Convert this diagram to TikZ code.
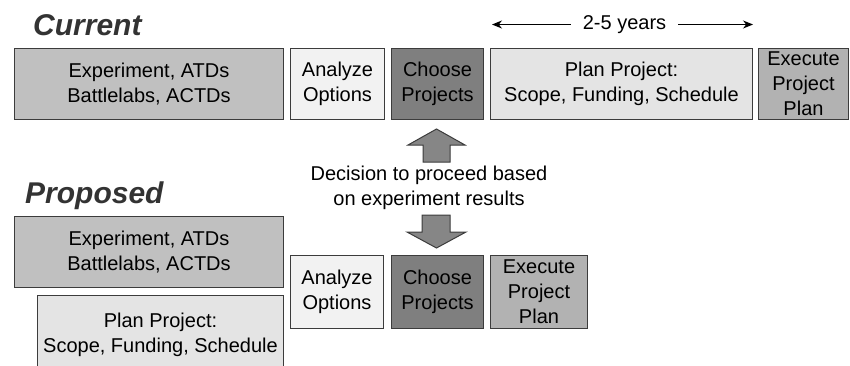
\documentclass[tikz,border=0pt]{standalone}
\usepackage{fontspec}
\setmainfont{Liberation Sans}
\usetikzlibrary{arrows.meta}

\definecolor{expgray}{HTML}{C0C0C0}
\definecolor{anagray}{HTML}{F2F2F2}
\definecolor{chogray}{HTML}{7F7F7F}
\definecolor{plangray}{HTML}{E4E4E4}
\definecolor{exegray}{HTML}{B2B2B2}
\definecolor{arrgray}{HTML}{868686}
\definecolor{linegray}{HTML}{3C3C3C}
\definecolor{titlegray}{HTML}{333333}

\tikzset{
  box/.style={draw=linegray, line width=1pt, inner sep=0pt, align=center,
    anchor=north west, font=\fontsize{20}{25}\selectfont},
  title/.style={anchor=base west, inner sep=0pt, text=titlegray,
    font=\fontsize{30}{34}\selectfont\bfseries\itshape},
  blockarrow/.style={fill=arrgray, draw=linegray, line width=1pt, line join=miter},
}

\begin{document}
\begin{tikzpicture}[x=1pt,y=1pt]
  \clip (0,0) rectangle (850,-365);

  % Current
  \node[title] (current) at (33,-35) {Current};

  \node[box, fill=expgray, minimum width=269pt, minimum height=71pt] (cexp) at (14,-48)
    {Experiment, ATDs\\Battlelabs, ACTDs};
  \node[box, fill=anagray, minimum width=94pt, minimum height=71pt] (cana) at (290,-48)
    {Analyze\\Options};
  \node[box, fill=chogray, minimum width=92pt, minimum height=71pt] (ccho) at (391,-48)
    {Choose\\Projects};
  \node[box, fill=plangray, minimum width=262pt, minimum height=71pt] (cplan) at (490,-48)
    {Plan Project:\\Scope, Funding, Schedule};
  \node[box, fill=exegray, minimum width=90pt, minimum height=71pt] (cexe) at (758,-48)
    {Execute\\Project\\Plan};

  % 2-5 years span
  \node[font=\fontsize{20}{24}\selectfont, inner xsep=12pt, inner ysep=0pt] (years) at (624.5,-24.5) {2-5 years};
  \coordinate (yleft) at (492,-24.5);
  \coordinate (yright) at (753,-24.5);
  \draw[line width=1pt, -{Stealth[length=10pt,width=8pt]}] (years.west) -- (yleft);
  \draw[line width=1pt, -{Stealth[length=10pt,width=8pt]}] (years.east) -- (yright);

  % Decision
  \node[align=center, inner sep=0pt, font=\fontsize{20}{24.5}\selectfont] (dec) at (429,-188)
    {Decision to proceed based\\on experiment results};

  \draw[blockarrow] (423,-162) -- (423,-145) -- (408,-145) -- (436.5,-129)
    -- (465,-145) -- (450,-145) -- (450,-162) -- cycle;
  \draw[blockarrow] (422,-215) -- (450,-215) -- (450,-232) -- (466,-232)
    -- (436.5,-248) -- (407,-232) -- (422,-232) -- cycle;

  % Proposed
  \node[title] (proposed) at (25,-203) {Proposed};

  \node[box, fill=expgray, minimum width=269pt, minimum height=71pt] (pexp) at (14,-216)
    {Experiment, ATDs\\Battlelabs, ACTDs};
  \node[box, fill=plangray, minimum width=246pt, minimum height=78pt] (pplan) at (37,-295)
    {Plan Project:\\Scope, Funding, Schedule};
  \node[box, fill=anagray, minimum width=93pt, minimum height=73pt] (pana) at (290,-255)
    {Analyze\\Options};
  \node[box, fill=chogray, minimum width=92pt, minimum height=73pt] (pcho) at (391,-255)
    {Choose\\Projects};
  \node[box, fill=exegray, minimum width=97pt, minimum height=73pt] (pexe) at (490,-255)
    {Execute\\Project\\Plan};
\end{tikzpicture}
\end{document}
